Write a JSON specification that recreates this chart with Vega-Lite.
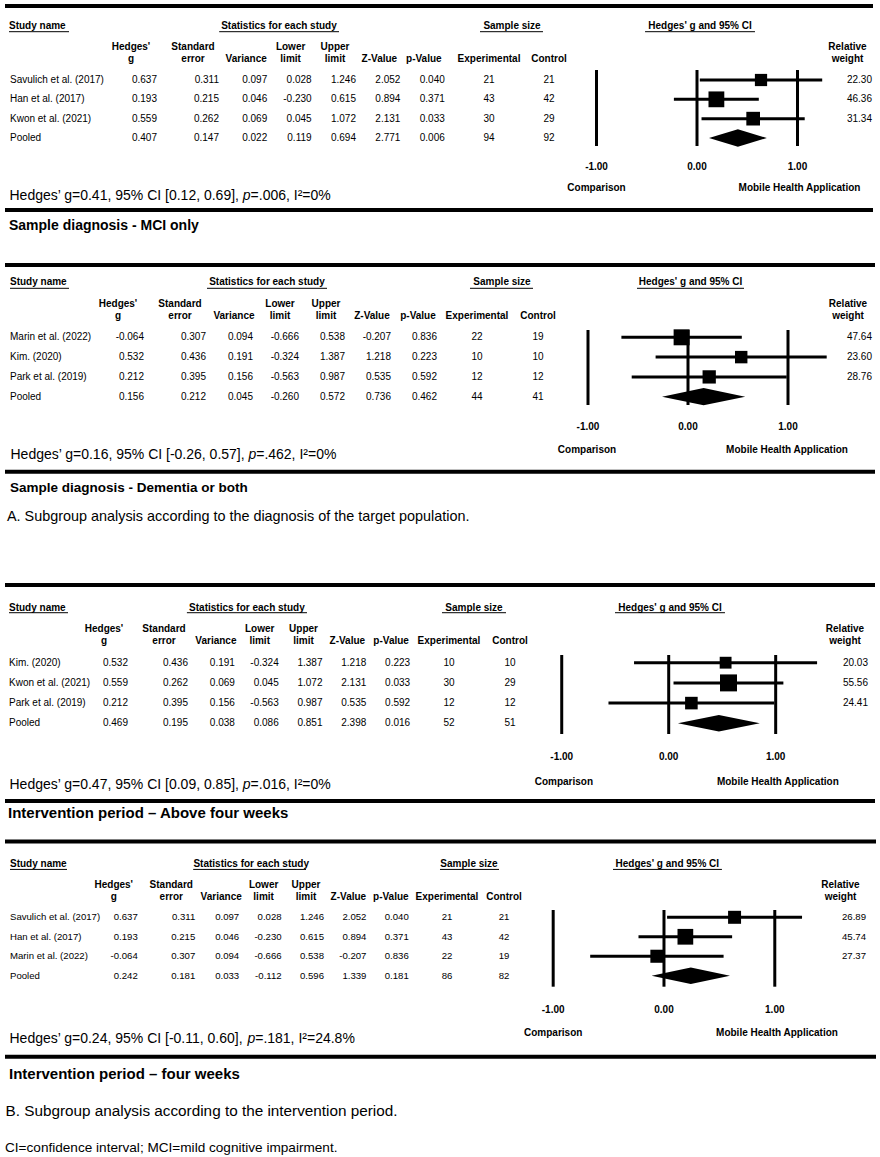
{
"$schema": "https://vega.github.io/schema/vega-lite/v6.json",
"padding": {"left": 3, "top": 0, "right": 0, "bottom": 0},
"background": "white",
"bounds": "full",
"spacing": 0,
"config": {
 "view": {"stroke": null},
 "axis": {"disable": true},
 "legend": {"disable": true},
 "concat": {"spacing": 0},
 "text": {"font": "Liberation Sans", "fontSize": 10, "color": "#000"},
 "rule": {"color": "#000"},
 "square": {"color": "#000", "opacity": 1},
 "point": {"color": "#000", "opacity": 1},
 "locale": {"number": {"decimal": ".", "thousands": ",", "grouping": [3], "currency": ["$", ""], "minus": "-"}}
},
"datasets": {
 "one": [{}],
 "refs": [{"ref": -1}, {"ref": 0}, {"ref": 1}],
 "cols": [
  {"col": "g", "h": "Hedges'\ng"},
  {"col": "se", "h": "Standard\nerror"},
  {"col": "var", "h": "\nVariance"},
  {"col": "lo", "h": "Lower\nlimit"},
  {"col": "hi", "h": "Upper\nlimit"},
  {"col": "z", "h": "\nZ-Value"},
  {"col": "p", "h": "\np-Value"},
  {"col": "ne", "h": "\nExperimental"},
  {"col": "nc", "h": "\nControl"}
 ],
 "studies": [
  {"panel":1,"row":1,"study":"Savulich et al. (2017)","g":0.637,"se":0.311,"var":0.097,"lo":0.028,"hi":1.246,"z":2.052,"p":0.040,"ne":21,"nc":21,"w":22.30},
  {"panel":1,"row":2,"study":"Han et al. (2017)","g":0.193,"se":0.215,"var":0.046,"lo":-0.230,"hi":0.615,"z":0.894,"p":0.371,"ne":43,"nc":42,"w":46.36},
  {"panel":1,"row":3,"study":"Kwon et al. (2021)","g":0.559,"se":0.262,"var":0.069,"lo":0.045,"hi":1.072,"z":2.131,"p":0.033,"ne":30,"nc":29,"w":31.34},
  {"panel":1,"row":4,"study":"Pooled","g":0.407,"se":0.147,"var":0.022,"lo":0.119,"hi":0.694,"z":2.771,"p":0.006,"ne":94,"nc":92,"w":null},
  {"panel":2,"row":1,"study":"Marin et al. (2022)","g":-0.064,"se":0.307,"var":0.094,"lo":-0.666,"hi":0.538,"z":-0.207,"p":0.836,"ne":22,"nc":19,"w":47.64},
  {"panel":2,"row":2,"study":"Kim. (2020)","g":0.532,"se":0.436,"var":0.191,"lo":-0.324,"hi":1.387,"z":1.218,"p":0.223,"ne":10,"nc":10,"w":23.60},
  {"panel":2,"row":3,"study":"Park et al. (2019)","g":0.212,"se":0.395,"var":0.156,"lo":-0.563,"hi":0.987,"z":0.535,"p":0.592,"ne":12,"nc":12,"w":28.76},
  {"panel":2,"row":4,"study":"Pooled","g":0.156,"se":0.212,"var":0.045,"lo":-0.260,"hi":0.572,"z":0.736,"p":0.462,"ne":44,"nc":41,"w":null},
  {"panel":3,"row":1,"study":"Kim. (2020)","g":0.532,"se":0.436,"var":0.191,"lo":-0.324,"hi":1.387,"z":1.218,"p":0.223,"ne":10,"nc":10,"w":20.03},
  {"panel":3,"row":2,"study":"Kwon et al. (2021)","g":0.559,"se":0.262,"var":0.069,"lo":0.045,"hi":1.072,"z":2.131,"p":0.033,"ne":30,"nc":29,"w":55.56},
  {"panel":3,"row":3,"study":"Park et al. (2019)","g":0.212,"se":0.395,"var":0.156,"lo":-0.563,"hi":0.987,"z":0.535,"p":0.592,"ne":12,"nc":12,"w":24.41},
  {"panel":3,"row":4,"study":"Pooled","g":0.469,"se":0.195,"var":0.038,"lo":0.086,"hi":0.851,"z":2.398,"p":0.016,"ne":52,"nc":51,"w":null},
  {"panel":4,"row":1,"study":"Savulich et al. (2017)","g":0.637,"se":0.311,"var":0.097,"lo":0.028,"hi":1.246,"z":2.052,"p":0.040,"ne":21,"nc":21,"w":26.89},
  {"panel":4,"row":2,"study":"Han et al. (2017)","g":0.193,"se":0.215,"var":0.046,"lo":-0.230,"hi":0.615,"z":0.894,"p":0.371,"ne":43,"nc":42,"w":45.74},
  {"panel":4,"row":3,"study":"Marin et al. (2022)","g":-0.064,"se":0.307,"var":0.094,"lo":-0.666,"hi":0.538,"z":-0.207,"p":0.836,"ne":22,"nc":19,"w":27.37},
  {"panel":4,"row":4,"study":"Pooled","g":0.242,"se":0.181,"var":0.033,"lo":-0.112,"hi":0.596,"z":1.339,"p":0.181,"ne":86,"nc":82,"w":null}
 ]
},
"vconcat": [
{"spacing": 0, "bounds": "flush", "hconcat": [
 {"width": 95, "height": 245, "layer": [
  {"data": {"name": "one"}, "mark": {"type": "rule", "strokeWidth": 4}, "encoding": {"y": {"datum": -2.828, "type": "quantitative", "scale": {"domain": [-3.139, 9.536], "reverse": true, "nice": false, "zero": false}}}},
  {"data": {"name": "one"}, "mark": {"type": "rule", "strokeWidth": 4}, "encoding": {"y": {"datum": 7.725, "type": "quantitative"}}},
  {"data": {"name": "one"}, "mark": {"type": "text", "align": "left", "baseline": "middle", "fontWeight": "bold", "dx": 4}, "encoding": {"x": {"datum": 0, "type": "quantitative", "scale": {"domain": [0, 1], "nice": false, "zero": false}}, "y": {"datum": -1.794, "type": "quantitative"}, "text": {"value": "Study name"}}},
  {"data": {"name": "one"}, "mark": {"type": "rule", "strokeWidth": 1, "xOffset": 4, "x2Offset": 64}, "encoding": {"x": {"datum": 0, "type": "quantitative"}, "x2": {"datum": 0}, "y": {"datum": -1.499, "type": "quantitative"}}},
  {"data": {"name": "studies"}, "transform": [{"filter": "datum.panel == 1"}], "mark": {"type": "text", "align": "left", "baseline": "middle", "dx": 5}, "encoding": {"x": {"datum": 0, "type": "quantitative"}, "y": {"field": "row", "type": "quantitative"}, "text": {"field": "study", "type": "nominal"}}},
  {"data": {"name": "one"}, "mark": {"type": "text", "align": "left", "baseline": "middle", "fontSize": 14, "dx": 4.5}, "encoding": {"x": {"datum": 0, "type": "quantitative"}, "y": {"datum": 7.0, "type": "quantitative"}, "text": {"value": "Hedges’ g=0.41, 95% CI [0.12, 0.69], "}}},
  {"data": {"name": "one"}, "mark": {"type": "text", "align": "left", "baseline": "middle", "fontSize": 14, "fontStyle": "italic", "dx": 237.8}, "encoding": {"x": {"datum": 0, "type": "quantitative"}, "y": {"datum": 7.0, "type": "quantitative"}, "text": {"value": "p"}}},
  {"data": {"name": "one"}, "mark": {"type": "text", "align": "left", "baseline": "middle", "fontSize": 14, "dx": 245.6}, "encoding": {"x": {"datum": 0, "type": "quantitative"}, "y": {"datum": 7.0, "type": "quantitative"}, "text": {"value": "=.006, I²=0%"}}},
  {"data": {"name": "one"}, "mark": {"type": "text", "align": "left", "baseline": "middle", "fontSize": 14, "fontWeight": "bold", "dx": 4}, "encoding": {"x": {"datum": 0, "type": "quantitative"}, "y": {"datum": 8.553, "type": "quantitative"}, "text": {"value": "Sample diagnosis - MCI only"}}}
 ]},
 {"width": 124, "height": 245, "layer": [
  {"data": {"name": "one"}, "mark": {"type": "rule", "strokeWidth": 4}, "encoding": {"y": {"datum": -2.828, "type": "quantitative", "scale": {"domain": [-3.139, 9.536], "reverse": true, "nice": false, "zero": false}}}},
  {"data": {"name": "one"}, "mark": {"type": "rule", "strokeWidth": 4}, "encoding": {"y": {"datum": 7.725, "type": "quantitative"}}},
  {"data": {"name": "cols"}, "transform": [{"filter": {"field": "col", "oneOf": ["g", "se"]}}], "mark": {"type": "text", "fontWeight": "bold", "baseline": "middle", "lineBreak": "\n", "lineHeight": 12}, "encoding": {"x": {"field": "col", "type": "nominal", "scale": {"type": "band", "domain": ["g", "se"], "paddingInner": 0, "paddingOuter": 0}}, "y": {"datum": -0.707, "type": "quantitative"}, "text": {"field": "h", "type": "nominal"}}},
  {"data": {"name": "studies"}, "transform": [{"filter": "datum.panel == 1"}, {"fold": ["g", "se"], "as": ["col", "val"]}], "mark": {"type": "text", "align": "right", "baseline": "middle", "dx": 26}, "encoding": {"x": {"field": "col", "type": "nominal"}, "y": {"field": "row", "type": "quantitative"}, "text": {"field": "val", "type": "quantitative", "format": ".3f"}}}
 ]},
 {"width": 222, "height": 245, "layer": [
  {"data": {"name": "one"}, "mark": {"type": "rule", "strokeWidth": 4}, "encoding": {"y": {"datum": -2.828, "type": "quantitative", "scale": {"domain": [-3.139, 9.536], "reverse": true, "nice": false, "zero": false}}}},
  {"data": {"name": "one"}, "mark": {"type": "rule", "strokeWidth": 4}, "encoding": {"y": {"datum": 7.725, "type": "quantitative"}}},
  {"data": {"name": "one"}, "mark": {"type": "text", "fontWeight": "bold", "baseline": "middle", "dx": 32.8}, "encoding": {"x": {"datum": "var", "type": "nominal", "scale": {"type": "band", "domain": ["var", "lo", "hi", "z", "p"], "paddingInner": 0, "paddingOuter": 0}}, "y": {"datum": -1.794, "type": "quantitative"}, "text": {"value": "Statistics for each study"}}},
  {"data": {"name": "one"}, "mark": {"type": "rule", "strokeWidth": 1, "xOffset": -27, "x2Offset": 4}, "encoding": {"x": {"datum": "var", "type": "nominal"}, "x2": {"datum": "hi"}, "y": {"datum": -1.499, "type": "quantitative"}}},
  {"data": {"name": "cols"}, "transform": [{"filter": {"field": "col", "oneOf": ["var", "lo", "hi", "z", "p"]}}], "mark": {"type": "text", "fontWeight": "bold", "baseline": "middle", "lineBreak": "\n", "lineHeight": 12}, "encoding": {"x": {"field": "col", "type": "nominal"}, "y": {"datum": -0.707, "type": "quantitative"}, "text": {"field": "h", "type": "nominal"}}},
  {"data": {"name": "studies"}, "transform": [{"filter": "datum.panel == 1"}, {"fold": ["var", "lo", "hi", "z", "p"], "as": ["col", "val"]}], "mark": {"type": "text", "align": "right", "baseline": "middle", "dx": 21}, "encoding": {"x": {"field": "col", "type": "nominal"}, "y": {"field": "row", "type": "quantitative"}, "text": {"field": "val", "type": "quantitative", "format": ".3f"}}}
 ]},
 {"width": 146, "height": 245, "layer": [
  {"data": {"name": "one"}, "mark": {"type": "rule", "strokeWidth": 4}, "encoding": {"y": {"datum": -2.828, "type": "quantitative", "scale": {"domain": [-3.139, 9.536], "reverse": true, "nice": false, "zero": false}}}},
  {"data": {"name": "one"}, "mark": {"type": "rule", "strokeWidth": 4}, "encoding": {"y": {"datum": 7.725, "type": "quantitative"}}},
  {"data": {"name": "one"}, "mark": {"type": "text", "fontWeight": "bold", "baseline": "middle", "dx": 23}, "encoding": {"x": {"datum": "ne", "type": "nominal", "scale": {"type": "point", "domain": ["ne", "nc"], "padding": 0.717}}, "y": {"datum": -1.794, "type": "quantitative"}, "text": {"value": "Sample size"}}},
  {"data": {"name": "one"}, "mark": {"type": "rule", "strokeWidth": 1, "xOffset": -9, "x2Offset": -6}, "encoding": {"x": {"datum": "ne", "type": "nominal"}, "x2": {"datum": "nc"}, "y": {"datum": -1.499, "type": "quantitative"}}},
  {"data": {"name": "cols"}, "transform": [{"filter": {"field": "col", "oneOf": ["ne", "nc"]}}], "mark": {"type": "text", "fontWeight": "bold", "baseline": "middle", "lineBreak": "\n", "lineHeight": 12}, "encoding": {"x": {"field": "col", "type": "nominal"}, "y": {"datum": -0.707, "type": "quantitative"}, "text": {"field": "h", "type": "nominal"}}},
  {"data": {"name": "studies"}, "transform": [{"filter": "datum.panel == 1"}, {"fold": ["ne", "nc"], "as": ["col", "val"]}], "mark": {"type": "text", "baseline": "middle"}, "encoding": {"x": {"field": "col", "type": "nominal"}, "y": {"field": "row", "type": "quantitative"}, "text": {"field": "val", "type": "quantitative", "format": "d"}}}
 ]},
 {"width": 230, "height": 245, "layer": [
  {"data": {"name": "one"}, "mark": {"type": "rule", "strokeWidth": 4}, "encoding": {"y": {"datum": -2.828, "type": "quantitative", "scale": {"domain": [-3.139, 9.536], "reverse": true, "nice": false, "zero": false}}}},
  {"data": {"name": "one"}, "mark": {"type": "rule", "strokeWidth": 4}, "encoding": {"y": {"datum": 7.725, "type": "quantitative"}}},
  {"data": {"name": "refs"}, "mark": {"type": "rule", "strokeWidth": 3}, "encoding": {"x": {"field": "ref", "type": "quantitative", "scale": {"domain": [-1.045, 1.244], "nice": false, "zero": false}}, "y": {"datum": 0.483, "type": "quantitative"}, "y2": {"datum": 4.414}}},
  {"data": {"name": "studies"}, "transform": [{"filter": "datum.panel == 1 && datum.row < 4"}], "mark": {"type": "rule", "strokeWidth": 3}, "encoding": {"x": {"field": "lo", "type": "quantitative"}, "x2": {"field": "hi"}, "y": {"field": "row", "type": "quantitative"}}},
  {"data": {"name": "studies"}, "transform": [{"filter": "datum.panel == 1 && datum.row < 4"}], "mark": {"type": "square", "opacity": 1}, "encoding": {"x": {"field": "g", "type": "quantitative"}, "y": {"field": "row", "type": "quantitative"}, "size": {"field": "w", "type": "quantitative", "scale": {"domain": [20, 56], "range": [140, 290]}, "legend": null}}},
  {"data": {"name": "studies"}, "transform": [{"filter": "datum.panel == 1 && datum.row == 4"}], "mark": {"type": "point", "shape": "M-1,0L0,-0.306L1,0L0,0.306Z", "size": 3341, "filled": true, "opacity": 1}, "encoding": {"x": {"field": "g", "type": "quantitative"}, "y": {"field": "row", "type": "quantitative"}}},
  {"data": {"name": "one"}, "mark": {"type": "text", "fontWeight": "bold", "baseline": "middle"}, "encoding": {"x": {"datum": 0.03, "type": "quantitative"}, "y": {"datum": -1.794, "type": "quantitative"}, "text": {"value": "Hedges' g and 95% CI"}}},
  {"data": {"name": "one"}, "mark": {"type": "rule", "strokeWidth": 1}, "encoding": {"x": {"datum": -0.517, "type": "quantitative"}, "x2": {"datum": 0.577}, "y": {"datum": -1.499, "type": "quantitative"}}},
  {"data": {"name": "refs"}, "mark": {"type": "text", "fontWeight": "bold", "baseline": "middle"}, "encoding": {"x": {"field": "ref", "type": "quantitative"}, "y": {"datum": 5.5, "type": "quantitative"}, "text": {"field": "ref", "type": "quantitative", "format": ".2f"}}},
  {"data": {"name": "one"}, "mark": {"type": "text", "fontWeight": "bold", "baseline": "middle"}, "encoding": {"x": {"datum": -1, "type": "quantitative"}, "y": {"datum": 6.587, "type": "quantitative"}, "text": {"value": "Comparison"}}},
  {"data": {"name": "one"}, "mark": {"type": "text", "fontWeight": "bold", "baseline": "middle"}, "encoding": {"x": {"datum": 1.02, "type": "quantitative"}, "y": {"datum": 6.587, "type": "quantitative"}, "text": {"value": "Mobile Health Application"}}}
 ]},
 {"width": 51, "height": 245, "layer": [
  {"data": {"name": "one"}, "mark": {"type": "rule", "strokeWidth": 4}, "encoding": {"y": {"datum": -2.828, "type": "quantitative", "scale": {"domain": [-3.139, 9.536], "reverse": true, "nice": false, "zero": false}}}},
  {"data": {"name": "one"}, "mark": {"type": "rule", "strokeWidth": 4}, "encoding": {"y": {"datum": 7.725, "type": "quantitative"}}},
  {"data": {"name": "one"}, "mark": {"type": "text", "fontWeight": "bold", "baseline": "middle", "lineBreak": "\n", "lineHeight": 12}, "encoding": {"x": {"datum": 0.5, "type": "quantitative", "scale": {"domain": [0, 1], "nice": false, "zero": false}}, "y": {"datum": -0.707, "type": "quantitative"}, "text": {"value": "Relative\nweight"}}},
  {"data": {"name": "studies"}, "transform": [{"filter": "datum.panel == 1 && datum.w != null"}], "mark": {"type": "text", "align": "right", "baseline": "middle", "dx": -1}, "encoding": {"x": {"datum": 1, "type": "quantitative"}, "y": {"field": "row", "type": "quantitative"}, "text": {"field": "w", "type": "quantitative", "format": ".2f"}}}
 ]}
]},
{"spacing": 0, "bounds": "flush", "hconcat": [
 {"width": 82, "height": 325, "layer": [
  {"data": {"name": "one"}, "mark": {"type": "rule", "strokeWidth": 4}, "encoding": {"y": {"datum": -2.652, "type": "quantitative", "scale": {"domain": [-3.662, 12.752], "reverse": true, "nice": false, "zero": false}}}},
  {"data": {"name": "one"}, "mark": {"type": "rule", "strokeWidth": 4}, "encoding": {"y": {"datum": 7.788, "type": "quantitative"}}},
  {"data": {"name": "one"}, "mark": {"type": "text", "align": "left", "baseline": "middle", "fontWeight": "bold", "dx": 5}, "encoding": {"x": {"datum": 0, "type": "quantitative", "scale": {"domain": [0, 1], "nice": false, "zero": false}}, "y": {"datum": -1.793, "type": "quantitative"}, "text": {"value": "Study name"}}},
  {"data": {"name": "one"}, "mark": {"type": "rule", "strokeWidth": 1, "xOffset": 5, "x2Offset": 64}, "encoding": {"x": {"datum": 0, "type": "quantitative"}, "x2": {"datum": 0}, "y": {"datum": -1.475, "type": "quantitative"}}},
  {"data": {"name": "studies"}, "transform": [{"filter": "datum.panel == 2"}], "mark": {"type": "text", "align": "left", "baseline": "middle", "dx": 5}, "encoding": {"x": {"datum": 0, "type": "quantitative"}, "y": {"field": "row", "type": "quantitative"}, "text": {"field": "study", "type": "nominal"}}},
  {"data": {"name": "one"}, "mark": {"type": "text", "align": "left", "baseline": "middle", "fontSize": 14, "dx": 5.5}, "encoding": {"x": {"datum": 0, "type": "quantitative"}, "y": {"datum": 6.944, "type": "quantitative"}, "text": {"value": "Hedges’ g=0.16, 95% CI [-0.26, 0.57], "}}},
  {"data": {"name": "one"}, "mark": {"type": "text", "align": "left", "baseline": "middle", "fontSize": 14, "fontStyle": "italic", "dx": 243.4}, "encoding": {"x": {"datum": 0, "type": "quantitative"}, "y": {"datum": 6.944, "type": "quantitative"}, "text": {"value": "p"}}},
  {"data": {"name": "one"}, "mark": {"type": "text", "align": "left", "baseline": "middle", "fontSize": 14, "dx": 251.2}, "encoding": {"x": {"datum": 0, "type": "quantitative"}, "y": {"datum": 6.944, "type": "quantitative"}, "text": {"value": "=.462, I²=0%"}}},
  {"data": {"name": "one"}, "mark": {"type": "text", "align": "left", "baseline": "middle", "fontSize": 13.5, "fontWeight": "bold", "dx": 5}, "encoding": {"x": {"datum": 0, "type": "quantitative"}, "y": {"datum": 8.626, "type": "quantitative"}, "text": {"value": "Sample diagnosis - Dementia or both"}}},
  {"data": {"name": "one"}, "mark": {"type": "text", "align": "left", "baseline": "middle", "fontSize": 14.4, "dx": 2}, "encoding": {"x": {"datum": 0, "type": "quantitative"}, "y": {"datum": 10.061, "type": "quantitative"}, "text": {"value": "A. Subgroup analysis according to the diagnosis of the target population."}}}
 ]},
 {"width": 124, "height": 325, "layer": [
  {"data": {"name": "one"}, "mark": {"type": "rule", "strokeWidth": 4}, "encoding": {"y": {"datum": -2.652, "type": "quantitative", "scale": {"domain": [-3.662, 12.752], "reverse": true, "nice": false, "zero": false}}}},
  {"data": {"name": "one"}, "mark": {"type": "rule", "strokeWidth": 4}, "encoding": {"y": {"datum": 7.788, "type": "quantitative"}}},
  {"data": {"name": "cols"}, "transform": [{"filter": {"field": "col", "oneOf": ["g", "se"]}}], "mark": {"type": "text", "fontWeight": "bold", "baseline": "middle", "lineBreak": "\n", "lineHeight": 12}, "encoding": {"x": {"field": "col", "type": "nominal", "scale": {"type": "band", "domain": ["g", "se"], "paddingInner": 0, "paddingOuter": 0}}, "y": {"datum": -0.682, "type": "quantitative"}, "text": {"field": "h", "type": "nominal"}}},
  {"data": {"name": "studies"}, "transform": [{"filter": "datum.panel == 2"}, {"fold": ["g", "se"], "as": ["col", "val"]}], "mark": {"type": "text", "align": "right", "baseline": "middle", "dx": 26}, "encoding": {"x": {"field": "col", "type": "nominal"}, "y": {"field": "row", "type": "quantitative"}, "text": {"field": "val", "type": "quantitative", "format": ".3f"}}}
 ]},
 {"width": 230, "height": 325, "layer": [
  {"data": {"name": "one"}, "mark": {"type": "rule", "strokeWidth": 4}, "encoding": {"y": {"datum": -2.652, "type": "quantitative", "scale": {"domain": [-3.662, 12.752], "reverse": true, "nice": false, "zero": false}}}},
  {"data": {"name": "one"}, "mark": {"type": "rule", "strokeWidth": 4}, "encoding": {"y": {"datum": 7.788, "type": "quantitative"}}},
  {"data": {"name": "one"}, "mark": {"type": "text", "fontWeight": "bold", "baseline": "middle", "dx": 33}, "encoding": {"x": {"datum": "var", "type": "nominal", "scale": {"type": "band", "domain": ["var", "lo", "hi", "z", "p"], "paddingInner": 0, "paddingOuter": 0}}, "y": {"datum": -1.793, "type": "quantitative"}, "text": {"value": "Statistics for each study"}}},
  {"data": {"name": "one"}, "mark": {"type": "rule", "strokeWidth": 1, "xOffset": -27, "x2Offset": 1}, "encoding": {"x": {"datum": "var", "type": "nominal"}, "x2": {"datum": "hi"}, "y": {"datum": -1.475, "type": "quantitative"}}},
  {"data": {"name": "cols"}, "transform": [{"filter": {"field": "col", "oneOf": ["var", "lo", "hi", "z", "p"]}}], "mark": {"type": "text", "fontWeight": "bold", "baseline": "middle", "lineBreak": "\n", "lineHeight": 12}, "encoding": {"x": {"field": "col", "type": "nominal"}, "y": {"datum": -0.682, "type": "quantitative"}, "text": {"field": "h", "type": "nominal"}}},
  {"data": {"name": "studies"}, "transform": [{"filter": "datum.panel == 2"}, {"fold": ["var", "lo", "hi", "z", "p"], "as": ["col", "val"]}], "mark": {"type": "text", "align": "right", "baseline": "middle", "dx": 19}, "encoding": {"x": {"field": "col", "type": "nominal"}, "y": {"field": "row", "type": "quantitative"}, "text": {"field": "val", "type": "quantitative", "format": ".3f"}}}
 ]},
 {"width": 133, "height": 325, "layer": [
  {"data": {"name": "one"}, "mark": {"type": "rule", "strokeWidth": 4}, "encoding": {"y": {"datum": -2.652, "type": "quantitative", "scale": {"domain": [-3.662, 12.752], "reverse": true, "nice": false, "zero": false}}}},
  {"data": {"name": "one"}, "mark": {"type": "rule", "strokeWidth": 4}, "encoding": {"y": {"datum": 7.788, "type": "quantitative"}}},
  {"data": {"name": "one"}, "mark": {"type": "text", "fontWeight": "bold", "baseline": "middle", "dx": 25}, "encoding": {"x": {"datum": "ne", "type": "nominal", "scale": {"type": "point", "domain": ["ne", "nc"], "padding": 0.59}}, "y": {"datum": -1.793, "type": "quantitative"}, "text": {"value": "Sample size"}}},
  {"data": {"name": "one"}, "mark": {"type": "rule", "strokeWidth": 1, "xOffset": -7, "x2Offset": -5}, "encoding": {"x": {"datum": "ne", "type": "nominal"}, "x2": {"datum": "nc"}, "y": {"datum": -1.475, "type": "quantitative"}}},
  {"data": {"name": "cols"}, "transform": [{"filter": {"field": "col", "oneOf": ["ne", "nc"]}}], "mark": {"type": "text", "fontWeight": "bold", "baseline": "middle", "lineBreak": "\n", "lineHeight": 12}, "encoding": {"x": {"field": "col", "type": "nominal"}, "y": {"datum": -0.682, "type": "quantitative"}, "text": {"field": "h", "type": "nominal"}}},
  {"data": {"name": "studies"}, "transform": [{"filter": "datum.panel == 2"}, {"fold": ["ne", "nc"], "as": ["col", "val"]}], "mark": {"type": "text", "baseline": "middle"}, "encoding": {"x": {"field": "col", "type": "nominal"}, "y": {"field": "row", "type": "quantitative"}, "text": {"field": "val", "type": "quantitative", "format": "d"}}}
 ]},
 {"width": 250, "height": 325, "layer": [
  {"data": {"name": "one"}, "mark": {"type": "rule", "strokeWidth": 4}, "encoding": {"y": {"datum": -2.652, "type": "quantitative", "scale": {"domain": [-3.662, 12.752], "reverse": true, "nice": false, "zero": false}}}},
  {"data": {"name": "one"}, "mark": {"type": "rule", "strokeWidth": 4}, "encoding": {"y": {"datum": 7.788, "type": "quantitative"}}},
  {"data": {"name": "refs"}, "mark": {"type": "rule", "strokeWidth": 3}, "encoding": {"x": {"field": "ref", "type": "quantitative", "scale": {"domain": [-1.14, 1.36], "nice": false, "zero": false}}, "y": {"datum": 0.631, "type": "quantitative"}, "y2": {"datum": 4.419}}},
  {"data": {"name": "studies"}, "transform": [{"filter": "datum.panel == 2 && datum.row < 4"}], "mark": {"type": "rule", "strokeWidth": 3}, "encoding": {"x": {"field": "lo", "type": "quantitative"}, "x2": {"field": "hi"}, "y": {"field": "row", "type": "quantitative"}}},
  {"data": {"name": "studies"}, "transform": [{"filter": "datum.panel == 2 && datum.row < 4"}], "mark": {"type": "square", "opacity": 1}, "encoding": {"x": {"field": "g", "type": "quantitative"}, "y": {"field": "row", "type": "quantitative"}, "size": {"field": "w", "type": "quantitative", "scale": {"domain": [20, 56], "range": [140, 290]}, "legend": null}}},
  {"data": {"name": "studies"}, "transform": [{"filter": "datum.panel == 2 && datum.row == 4"}], "mark": {"type": "point", "shape": "M-1,0L0,-0.208L1,0L0,0.208Z", "size": 6922, "filled": true, "opacity": 1}, "encoding": {"x": {"field": "g", "type": "quantitative"}, "y": {"field": "row", "type": "quantitative"}}},
  {"data": {"name": "one"}, "mark": {"type": "text", "fontWeight": "bold", "baseline": "middle"}, "encoding": {"x": {"datum": 0.025, "type": "quantitative"}, "y": {"datum": -1.793, "type": "quantitative"}, "text": {"value": "Hedges' g and 95% CI"}}},
  {"data": {"name": "one"}, "mark": {"type": "rule", "strokeWidth": 1}, "encoding": {"x": {"datum": -0.51, "type": "quantitative"}, "x2": {"datum": 0.56}, "y": {"datum": -1.475, "type": "quantitative"}}},
  {"data": {"name": "refs"}, "mark": {"type": "text", "fontWeight": "bold", "baseline": "middle"}, "encoding": {"x": {"field": "ref", "type": "quantitative"}, "y": {"datum": 5.515, "type": "quantitative"}, "text": {"field": "ref", "type": "quantitative", "format": ".2f"}}},
  {"data": {"name": "one"}, "mark": {"type": "text", "fontWeight": "bold", "baseline": "middle"}, "encoding": {"x": {"datum": -1.01, "type": "quantitative"}, "y": {"datum": 6.692, "type": "quantitative"}, "text": {"value": "Comparison"}}},
  {"data": {"name": "one"}, "mark": {"type": "text", "fontWeight": "bold", "baseline": "middle"}, "encoding": {"x": {"datum": 0.99, "type": "quantitative"}, "y": {"datum": 6.692, "type": "quantitative"}, "text": {"value": "Mobile Health Application"}}}
 ]},
 {"width": 51, "height": 325, "layer": [
  {"data": {"name": "one"}, "mark": {"type": "rule", "strokeWidth": 4}, "encoding": {"y": {"datum": -2.652, "type": "quantitative", "scale": {"domain": [-3.662, 12.752], "reverse": true, "nice": false, "zero": false}}}},
  {"data": {"name": "one"}, "mark": {"type": "rule", "strokeWidth": 4}, "encoding": {"y": {"datum": 7.788, "type": "quantitative"}}},
  {"data": {"name": "one"}, "mark": {"type": "text", "fontWeight": "bold", "baseline": "middle", "lineBreak": "\n", "lineHeight": 12, "dx": -1.5}, "encoding": {"x": {"datum": 0.5, "type": "quantitative", "scale": {"domain": [0, 1], "nice": false, "zero": false}}, "y": {"datum": -0.682, "type": "quantitative"}, "text": {"value": "Relative\nweight"}}},
  {"data": {"name": "studies"}, "transform": [{"filter": "datum.panel == 2 && datum.w != null"}], "mark": {"type": "text", "align": "right", "baseline": "middle", "dx": -3}, "encoding": {"x": {"datum": 1, "type": "quantitative"}, "y": {"field": "row", "type": "quantitative"}, "text": {"field": "w", "type": "quantitative", "format": ".2f"}}}
 ]}
]},
{"spacing": 0, "bounds": "flush", "hconcat": [
 {"width": 69, "height": 260, "layer": [
  {"data": {"name": "one"}, "mark": {"type": "rule", "strokeWidth": 4}, "encoding": {"y": {"datum": -2.847, "type": "quantitative", "scale": {"domain": [-3.589, 9.282], "reverse": true, "nice": false, "zero": false}}}},
  {"data": {"name": "one"}, "mark": {"type": "rule", "strokeWidth": 4}, "encoding": {"y": {"datum": 7.847, "type": "quantitative"}}},
  {"data": {"name": "one"}, "mark": {"type": "text", "align": "left", "baseline": "middle", "fontWeight": "bold", "dx": 4}, "encoding": {"x": {"datum": 0, "type": "quantitative", "scale": {"domain": [0, 1], "nice": false, "zero": false}}, "y": {"datum": -1.723, "type": "quantitative"}, "text": {"value": "Study name"}}},
  {"data": {"name": "one"}, "mark": {"type": "rule", "strokeWidth": 1, "xOffset": 4, "x2Offset": 63}, "encoding": {"x": {"datum": 0, "type": "quantitative"}, "x2": {"datum": 0}, "y": {"datum": -1.475, "type": "quantitative"}}},
  {"data": {"name": "studies"}, "transform": [{"filter": "datum.panel == 3"}], "mark": {"type": "text", "align": "left", "baseline": "middle", "dx": 4}, "encoding": {"x": {"datum": 0, "type": "quantitative"}, "y": {"field": "row", "type": "quantitative"}, "text": {"field": "study", "type": "nominal"}}},
  {"data": {"name": "one"}, "mark": {"type": "text", "align": "left", "baseline": "middle", "fontSize": 14, "dx": 4.5}, "encoding": {"x": {"datum": 0, "type": "quantitative"}, "y": {"datum": 7.054, "type": "quantitative"}, "text": {"value": "Hedges’ g=0.47, 95% CI [0.09, 0.85], "}}},
  {"data": {"name": "one"}, "mark": {"type": "text", "align": "left", "baseline": "middle", "fontSize": 14, "fontStyle": "italic", "dx": 237.8}, "encoding": {"x": {"datum": 0, "type": "quantitative"}, "y": {"datum": 7.054, "type": "quantitative"}, "text": {"value": "p"}}},
  {"data": {"name": "one"}, "mark": {"type": "text", "align": "left", "baseline": "middle", "fontSize": 14, "dx": 245.6}, "encoding": {"x": {"datum": 0, "type": "quantitative"}, "y": {"datum": 7.054, "type": "quantitative"}, "text": {"value": "=.016, I²=0%"}}},
  {"data": {"name": "one"}, "mark": {"type": "text", "align": "left", "baseline": "middle", "fontSize": 15, "fontWeight": "bold", "dx": 3}, "encoding": {"x": {"datum": 0, "type": "quantitative"}, "y": {"datum": 8.455, "type": "quantitative"}, "text": {"value": "Intervention period – Above four weeks"}}}
 ]},
 {"width": 120, "height": 260, "layer": [
  {"data": {"name": "one"}, "mark": {"type": "rule", "strokeWidth": 4}, "encoding": {"y": {"datum": -2.847, "type": "quantitative", "scale": {"domain": [-3.589, 9.282], "reverse": true, "nice": false, "zero": false}}}},
  {"data": {"name": "one"}, "mark": {"type": "rule", "strokeWidth": 4}, "encoding": {"y": {"datum": 7.847, "type": "quantitative"}}},
  {"data": {"name": "cols"}, "transform": [{"filter": {"field": "col", "oneOf": ["g", "se"]}}], "mark": {"type": "text", "fontWeight": "bold", "baseline": "middle", "lineBreak": "\n", "lineHeight": 12}, "encoding": {"x": {"field": "col", "type": "nominal", "scale": {"type": "band", "domain": ["g", "se"], "paddingInner": 0, "paddingOuter": 0}}, "y": {"datum": -0.668, "type": "quantitative"}, "text": {"field": "h", "type": "nominal"}}},
  {"data": {"name": "studies"}, "transform": [{"filter": "datum.panel == 3"}, {"fold": ["g", "se"], "as": ["col", "val"]}], "mark": {"type": "text", "align": "right", "baseline": "middle", "dx": 24}, "encoding": {"x": {"field": "col", "type": "nominal"}, "y": {"field": "row", "type": "quantitative"}, "text": {"field": "val", "type": "quantitative", "format": ".3f"}}}
 ]},
 {"width": 219, "height": 260, "layer": [
  {"data": {"name": "one"}, "mark": {"type": "rule", "strokeWidth": 4}, "encoding": {"y": {"datum": -2.847, "type": "quantitative", "scale": {"domain": [-3.589, 9.282], "reverse": true, "nice": false, "zero": false}}}},
  {"data": {"name": "one"}, "mark": {"type": "rule", "strokeWidth": 4}, "encoding": {"y": {"datum": 7.847, "type": "quantitative"}}},
  {"data": {"name": "one"}, "mark": {"type": "text", "fontWeight": "bold", "baseline": "middle", "dx": 31}, "encoding": {"x": {"datum": "var", "type": "nominal", "scale": {"type": "band", "domain": ["var", "lo", "hi", "z", "p"], "paddingInner": 0, "paddingOuter": 0}}, "y": {"datum": -1.723, "type": "quantitative"}, "text": {"value": "Statistics for each study"}}},
  {"data": {"name": "one"}, "mark": {"type": "rule", "strokeWidth": 1, "xOffset": -29, "x2Offset": 3.5}, "encoding": {"x": {"datum": "var", "type": "nominal"}, "x2": {"datum": "hi"}, "y": {"datum": -1.475, "type": "quantitative"}}},
  {"data": {"name": "cols"}, "transform": [{"filter": {"field": "col", "oneOf": ["var", "lo", "hi", "z", "p"]}}], "mark": {"type": "text", "fontWeight": "bold", "baseline": "middle", "lineBreak": "\n", "lineHeight": 12}, "encoding": {"x": {"field": "col", "type": "nominal"}, "y": {"datum": -0.668, "type": "quantitative"}, "text": {"field": "h", "type": "nominal"}}},
  {"data": {"name": "studies"}, "transform": [{"filter": "datum.panel == 3"}, {"fold": ["var", "lo", "hi", "z", "p"], "as": ["col", "val"]}], "mark": {"type": "text", "align": "right", "baseline": "middle", "dx": 19}, "encoding": {"x": {"field": "col", "type": "nominal"}, "y": {"field": "row", "type": "quantitative"}, "text": {"field": "val", "type": "quantitative", "format": ".3f"}}}
 ]},
 {"width": 133, "height": 260, "layer": [
  {"data": {"name": "one"}, "mark": {"type": "rule", "strokeWidth": 4}, "encoding": {"y": {"datum": -2.847, "type": "quantitative", "scale": {"domain": [-3.589, 9.282], "reverse": true, "nice": false, "zero": false}}}},
  {"data": {"name": "one"}, "mark": {"type": "rule", "strokeWidth": 4}, "encoding": {"y": {"datum": 7.847, "type": "quantitative"}}},
  {"data": {"name": "one"}, "mark": {"type": "text", "fontWeight": "bold", "baseline": "middle", "dx": 25}, "encoding": {"x": {"datum": "ne", "type": "nominal", "scale": {"type": "point", "domain": ["ne", "nc"], "padding": 0.59}}, "y": {"datum": -1.723, "type": "quantitative"}, "text": {"value": "Sample size"}}},
  {"data": {"name": "one"}, "mark": {"type": "rule", "strokeWidth": 1, "xOffset": -7, "x2Offset": -4}, "encoding": {"x": {"datum": "ne", "type": "nominal"}, "x2": {"datum": "nc"}, "y": {"datum": -1.475, "type": "quantitative"}}},
  {"data": {"name": "cols"}, "transform": [{"filter": {"field": "col", "oneOf": ["ne", "nc"]}}], "mark": {"type": "text", "fontWeight": "bold", "baseline": "middle", "lineBreak": "\n", "lineHeight": 12}, "encoding": {"x": {"field": "col", "type": "nominal"}, "y": {"datum": -0.668, "type": "quantitative"}, "text": {"field": "h", "type": "nominal"}}},
  {"data": {"name": "studies"}, "transform": [{"filter": "datum.panel == 3"}, {"fold": ["ne", "nc"], "as": ["col", "val"]}], "mark": {"type": "text", "baseline": "middle"}, "encoding": {"x": {"field": "col", "type": "nominal"}, "y": {"field": "row", "type": "quantitative"}, "text": {"field": "val", "type": "quantitative", "format": "d"}}}
 ]},
 {"width": 276, "height": 260, "layer": [
  {"data": {"name": "one"}, "mark": {"type": "rule", "strokeWidth": 4}, "encoding": {"y": {"datum": -2.847, "type": "quantitative", "scale": {"domain": [-3.589, 9.282], "reverse": true, "nice": false, "zero": false}}}},
  {"data": {"name": "one"}, "mark": {"type": "rule", "strokeWidth": 4}, "encoding": {"y": {"datum": 7.847, "type": "quantitative"}}},
  {"data": {"name": "refs"}, "mark": {"type": "rule", "strokeWidth": 3}, "encoding": {"x": {"field": "ref", "type": "quantitative", "scale": {"domain": [-1.147, 1.433], "nice": false, "zero": false}}, "y": {"datum": 0.619, "type": "quantitative"}, "y2": {"datum": 4.53}}},
  {"data": {"name": "studies"}, "transform": [{"filter": "datum.panel == 3 && datum.row < 4"}], "mark": {"type": "rule", "strokeWidth": 3}, "encoding": {"x": {"field": "lo", "type": "quantitative"}, "x2": {"field": "hi"}, "y": {"field": "row", "type": "quantitative"}}},
  {"data": {"name": "studies"}, "transform": [{"filter": "datum.panel == 3 && datum.row < 4"}], "mark": {"type": "square", "opacity": 1}, "encoding": {"x": {"field": "g", "type": "quantitative"}, "y": {"field": "row", "type": "quantitative"}, "size": {"field": "w", "type": "quantitative", "scale": {"domain": [20, 56], "range": [140, 290]}, "legend": null}}},
  {"data": {"name": "studies"}, "transform": [{"filter": "datum.panel == 3 && datum.row == 4"}], "mark": {"type": "point", "shape": "M-1,0L0,-0.203L1,0L0,0.203Z", "size": 6708, "filled": true, "opacity": 1}, "encoding": {"x": {"field": "g", "type": "quantitative"}, "y": {"field": "row", "type": "quantitative"}}},
  {"data": {"name": "one"}, "mark": {"type": "text", "fontWeight": "bold", "baseline": "middle"}, "encoding": {"x": {"datum": 0.012, "type": "quantitative"}, "y": {"datum": -1.723, "type": "quantitative"}, "text": {"value": "Hedges' g and 95% CI"}}},
  {"data": {"name": "one"}, "mark": {"type": "rule", "strokeWidth": 1}, "encoding": {"x": {"datum": -0.502, "type": "quantitative"}, "x2": {"datum": 0.526}, "y": {"datum": -1.475, "type": "quantitative"}}},
  {"data": {"name": "refs"}, "mark": {"type": "text", "fontWeight": "bold", "baseline": "middle"}, "encoding": {"x": {"field": "ref", "type": "quantitative"}, "y": {"datum": 5.653, "type": "quantitative"}, "text": {"field": "ref", "type": "quantitative", "format": ".2f"}}},
  {"data": {"name": "one"}, "mark": {"type": "text", "fontWeight": "bold", "baseline": "middle"}, "encoding": {"x": {"datum": -0.98, "type": "quantitative"}, "y": {"datum": 6.891, "type": "quantitative"}, "text": {"value": "Comparison"}}},
  {"data": {"name": "one"}, "mark": {"type": "text", "fontWeight": "bold", "baseline": "middle"}, "encoding": {"x": {"datum": 1.02, "type": "quantitative"}, "y": {"datum": 6.891, "type": "quantitative"}, "text": {"value": "Mobile Health Application"}}}
 ]},
 {"width": 53, "height": 260, "layer": [
  {"data": {"name": "one"}, "mark": {"type": "rule", "strokeWidth": 4}, "encoding": {"y": {"datum": -2.847, "type": "quantitative", "scale": {"domain": [-3.589, 9.282], "reverse": true, "nice": false, "zero": false}}}},
  {"data": {"name": "one"}, "mark": {"type": "rule", "strokeWidth": 4}, "encoding": {"y": {"datum": 7.847, "type": "quantitative"}}},
  {"data": {"name": "one"}, "mark": {"type": "text", "fontWeight": "bold", "baseline": "middle", "lineBreak": "\n", "lineHeight": 12, "dx": -3.5}, "encoding": {"x": {"datum": 0.5, "type": "quantitative", "scale": {"domain": [0, 1], "nice": false, "zero": false}}, "y": {"datum": -0.668, "type": "quantitative"}, "text": {"value": "Relative\nweight"}}},
  {"data": {"name": "studies"}, "transform": [{"filter": "datum.panel == 3 && datum.w != null"}], "mark": {"type": "text", "align": "right", "baseline": "middle", "dx": -7}, "encoding": {"x": {"datum": 1, "type": "quantitative"}, "y": {"field": "row", "type": "quantitative"}, "text": {"field": "w", "type": "quantitative", "format": ".2f"}}}
 ]}
]},
{"spacing": 0, "bounds": "flush", "hconcat": [
 {"width": 80, "height": 327, "layer": [
  {"data": {"name": "one"}, "mark": {"type": "rule", "strokeWidth": 4}, "encoding": {"y": {"datum": -2.893, "type": "quantitative", "scale": {"domain": [-3.484, 13.311], "reverse": true, "nice": false, "zero": false}}}},
  {"data": {"name": "one"}, "mark": {"type": "rule", "strokeWidth": 4}, "encoding": {"y": {"datum": 8.16, "type": "quantitative"}}},
  {"data": {"name": "one"}, "mark": {"type": "text", "align": "left", "baseline": "middle", "fontWeight": "bold", "dx": 5}, "encoding": {"x": {"datum": 0, "type": "quantitative", "scale": {"domain": [0, 1], "nice": false, "zero": false}}, "y": {"datum": -1.738, "type": "quantitative"}, "text": {"value": "Study name"}}},
  {"data": {"name": "one"}, "mark": {"type": "rule", "strokeWidth": 1, "xOffset": 5, "x2Offset": 62}, "encoding": {"x": {"datum": 0, "type": "quantitative"}, "x2": {"datum": 0}, "y": {"datum": -1.46, "type": "quantitative"}}},
  {"data": {"name": "studies"}, "transform": [{"filter": "datum.panel == 4"}], "mark": {"type": "text", "align": "left", "baseline": "middle", "dx": 5, "fontSize": 9.6}, "encoding": {"x": {"datum": 0, "type": "quantitative"}, "y": {"field": "row", "type": "quantitative"}, "text": {"field": "study", "type": "nominal"}}},
  {"data": {"name": "one"}, "mark": {"type": "text", "align": "left", "baseline": "middle", "fontSize": 14, "dx": 4.5}, "encoding": {"x": {"datum": 0, "type": "quantitative"}, "y": {"datum": 7.251, "type": "quantitative"}, "text": {"value": "Hedges’ g=0.24, 95% CI [-0.11, 0.60], "}}},
  {"data": {"name": "one"}, "mark": {"type": "text", "align": "left", "baseline": "middle", "fontSize": 14, "fontStyle": "italic", "dx": 242.4}, "encoding": {"x": {"datum": 0, "type": "quantitative"}, "y": {"datum": 7.251, "type": "quantitative"}, "text": {"value": "p"}}},
  {"data": {"name": "one"}, "mark": {"type": "text", "align": "left", "baseline": "middle", "fontSize": 14, "dx": 250.2}, "encoding": {"x": {"datum": 0, "type": "quantitative"}, "y": {"datum": 7.251, "type": "quantitative"}, "text": {"value": "=.181, I²=24.8%"}}},
  {"data": {"name": "one"}, "mark": {"type": "text", "align": "left", "baseline": "middle", "fontSize": 15, "fontWeight": "bold", "dx": 4}, "encoding": {"x": {"datum": 0, "type": "quantitative"}, "y": {"datum": 9.064, "type": "quantitative"}, "text": {"value": "Intervention period – four weeks"}}},
  {"data": {"name": "one"}, "mark": {"type": "text", "align": "left", "baseline": "middle", "fontSize": 15.3, "dx": 0.5}, "encoding": {"x": {"datum": 0, "type": "quantitative"}, "y": {"datum": 10.933, "type": "quantitative"}, "text": {"value": "B. Subgroup analysis according to the intervention period."}}},
  {"data": {"name": "one"}, "mark": {"type": "text", "align": "left", "baseline": "middle", "fontSize": 13.6, "dx": 0}, "encoding": {"x": {"datum": 0, "type": "quantitative"}, "y": {"datum": 12.864, "type": "quantitative"}, "text": {"value": "CI=confidence interval; MCI=mild cognitive impairment."}}}
 ]},
 {"width": 115, "height": 327, "layer": [
  {"data": {"name": "one"}, "mark": {"type": "rule", "strokeWidth": 4}, "encoding": {"y": {"datum": -2.893, "type": "quantitative", "scale": {"domain": [-3.484, 13.311], "reverse": true, "nice": false, "zero": false}}}},
  {"data": {"name": "one"}, "mark": {"type": "rule", "strokeWidth": 4}, "encoding": {"y": {"datum": 8.16, "type": "quantitative"}}},
  {"data": {"name": "cols"}, "transform": [{"filter": {"field": "col", "oneOf": ["g", "se"]}}], "mark": {"type": "text", "fontWeight": "bold", "baseline": "middle", "lineBreak": "\n", "lineHeight": 12}, "encoding": {"x": {"field": "col", "type": "nominal", "scale": {"type": "band", "domain": ["g", "se"], "paddingInner": 0, "paddingOuter": 0}}, "y": {"datum": -0.684, "type": "quantitative"}, "text": {"field": "h", "type": "nominal"}}},
  {"data": {"name": "studies"}, "transform": [{"filter": "datum.panel == 4"}, {"fold": ["g", "se"], "as": ["col", "val"]}], "mark": {"type": "text", "align": "right", "baseline": "middle", "dx": 24, "fontSize": 9.6}, "encoding": {"x": {"field": "col", "type": "nominal"}, "y": {"field": "row", "type": "quantitative"}, "text": {"field": "val", "type": "quantitative", "format": ".3f"}}}
 ]},
 {"width": 212, "height": 327, "layer": [
  {"data": {"name": "one"}, "mark": {"type": "rule", "strokeWidth": 4}, "encoding": {"y": {"datum": -2.893, "type": "quantitative", "scale": {"domain": [-3.484, 13.311], "reverse": true, "nice": false, "zero": false}}}},
  {"data": {"name": "one"}, "mark": {"type": "rule", "strokeWidth": 4}, "encoding": {"y": {"datum": 8.16, "type": "quantitative"}}},
  {"data": {"name": "one"}, "mark": {"type": "text", "fontWeight": "bold", "baseline": "middle", "dx": 30}, "encoding": {"x": {"datum": "var", "type": "nominal", "scale": {"type": "band", "domain": ["var", "lo", "hi", "z", "p"], "paddingInner": 0, "paddingOuter": 0}}, "y": {"datum": -1.738, "type": "quantitative"}, "text": {"value": "Statistics for each study"}}},
  {"data": {"name": "one"}, "mark": {"type": "rule", "strokeWidth": 1, "xOffset": -28, "x2Offset": 0}, "encoding": {"x": {"datum": "var", "type": "nominal"}, "x2": {"datum": "hi"}, "y": {"datum": -1.46, "type": "quantitative"}}},
  {"data": {"name": "cols"}, "transform": [{"filter": {"field": "col", "oneOf": ["var", "lo", "hi", "z", "p"]}}], "mark": {"type": "text", "fontWeight": "bold", "baseline": "middle", "lineBreak": "\n", "lineHeight": 12}, "encoding": {"x": {"field": "col", "type": "nominal"}, "y": {"datum": -0.684, "type": "quantitative"}, "text": {"field": "h", "type": "nominal"}}},
  {"data": {"name": "studies"}, "transform": [{"filter": "datum.panel == 4"}, {"fold": ["var", "lo", "hi", "z", "p"], "as": ["col", "val"]}], "mark": {"type": "text", "align": "right", "baseline": "middle", "dx": 18, "fontSize": 9.6}, "encoding": {"x": {"field": "col", "type": "nominal"}, "y": {"field": "row", "type": "quantitative"}, "text": {"field": "val", "type": "quantitative", "format": ".3f"}}}
 ]},
 {"width": 127, "height": 327, "layer": [
  {"data": {"name": "one"}, "mark": {"type": "rule", "strokeWidth": 4}, "encoding": {"y": {"datum": -2.893, "type": "quantitative", "scale": {"domain": [-3.484, 13.311], "reverse": true, "nice": false, "zero": false}}}},
  {"data": {"name": "one"}, "mark": {"type": "rule", "strokeWidth": 4}, "encoding": {"y": {"datum": 8.16, "type": "quantitative"}}},
  {"data": {"name": "one"}, "mark": {"type": "text", "fontWeight": "bold", "baseline": "middle", "dx": 22}, "encoding": {"x": {"datum": "ne", "type": "nominal", "scale": {"type": "point", "domain": ["ne", "nc"], "padding": 0.614}}, "y": {"datum": -1.738, "type": "quantitative"}, "text": {"value": "Sample size"}}},
  {"data": {"name": "one"}, "mark": {"type": "rule", "strokeWidth": 1, "xOffset": -7, "x2Offset": -5}, "encoding": {"x": {"datum": "ne", "type": "nominal"}, "x2": {"datum": "nc"}, "y": {"datum": -1.46, "type": "quantitative"}}},
  {"data": {"name": "cols"}, "transform": [{"filter": {"field": "col", "oneOf": ["ne", "nc"]}}], "mark": {"type": "text", "fontWeight": "bold", "baseline": "middle", "lineBreak": "\n", "lineHeight": 12}, "encoding": {"x": {"field": "col", "type": "nominal"}, "y": {"datum": -0.684, "type": "quantitative"}, "text": {"field": "h", "type": "nominal"}}},
  {"data": {"name": "studies"}, "transform": [{"filter": "datum.panel == 4"}, {"fold": ["ne", "nc"], "as": ["col", "val"]}], "mark": {"type": "text", "baseline": "middle", "fontSize": 9.6}, "encoding": {"x": {"field": "col", "type": "nominal"}, "y": {"field": "row", "type": "quantitative"}, "text": {"field": "val", "type": "quantitative", "format": "d"}}}
 ]},
 {"width": 277, "height": 327, "layer": [
  {"data": {"name": "one"}, "mark": {"type": "rule", "strokeWidth": 4}, "encoding": {"y": {"datum": -2.893, "type": "quantitative", "scale": {"domain": [-3.484, 13.311], "reverse": true, "nice": false, "zero": false}}}},
  {"data": {"name": "one"}, "mark": {"type": "rule", "strokeWidth": 4}, "encoding": {"y": {"datum": 8.16, "type": "quantitative"}}},
  {"data": {"name": "refs"}, "mark": {"type": "rule", "strokeWidth": 3}, "encoding": {"x": {"field": "ref", "type": "quantitative", "scale": {"domain": [-1.128, 1.372], "nice": false, "zero": false}}, "y": {"datum": 0.625, "type": "quantitative"}, "y2": {"datum": 4.564}}},
  {"data": {"name": "studies"}, "transform": [{"filter": "datum.panel == 4 && datum.row < 4"}], "mark": {"type": "rule", "strokeWidth": 3}, "encoding": {"x": {"field": "lo", "type": "quantitative"}, "x2": {"field": "hi"}, "y": {"field": "row", "type": "quantitative"}}},
  {"data": {"name": "studies"}, "transform": [{"filter": "datum.panel == 4 && datum.row < 4"}], "mark": {"type": "square", "opacity": 1}, "encoding": {"x": {"field": "g", "type": "quantitative"}, "y": {"field": "row", "type": "quantitative"}, "size": {"field": "w", "type": "quantitative", "scale": {"domain": [20, 56], "range": [140, 290]}, "legend": null}}},
  {"data": {"name": "studies"}, "transform": [{"filter": "datum.panel == 4 && datum.row == 4"}], "mark": {"type": "point", "shape": "M-1,0L0,-0.212L1,0L0,0.212Z", "size": 6147, "filled": true, "opacity": 1}, "encoding": {"x": {"field": "g", "type": "quantitative"}, "y": {"field": "row", "type": "quantitative"}}},
  {"data": {"name": "one"}, "mark": {"type": "text", "fontWeight": "bold", "baseline": "middle"}, "encoding": {"x": {"datum": 0.03, "type": "quantitative"}, "y": {"datum": -1.738, "type": "quantitative"}, "text": {"value": "Hedges' g and 95% CI"}}},
  {"data": {"name": "one"}, "mark": {"type": "rule", "strokeWidth": 1}, "encoding": {"x": {"datum": -0.46, "type": "quantitative"}, "x2": {"datum": 0.523}, "y": {"datum": -1.46, "type": "quantitative"}}},
  {"data": {"name": "refs"}, "mark": {"type": "text", "fontWeight": "bold", "baseline": "middle"}, "encoding": {"x": {"field": "ref", "type": "quantitative"}, "y": {"datum": 5.761, "type": "quantitative"}, "text": {"field": "ref", "type": "quantitative", "format": ".2f"}}},
  {"data": {"name": "one"}, "mark": {"type": "text", "fontWeight": "bold", "baseline": "middle"}, "encoding": {"x": {"datum": -1, "type": "quantitative"}, "y": {"datum": 6.958, "type": "quantitative"}, "text": {"value": "Comparison"}}},
  {"data": {"name": "one"}, "mark": {"type": "text", "fontWeight": "bold", "baseline": "middle"}, "encoding": {"x": {"datum": 1.02, "type": "quantitative"}, "y": {"datum": 6.958, "type": "quantitative"}, "text": {"value": "Mobile Health Application"}}}
 ]},
 {"width": 60, "height": 327, "layer": [
  {"data": {"name": "one"}, "mark": {"type": "rule", "strokeWidth": 4}, "encoding": {"y": {"datum": -2.893, "type": "quantitative", "scale": {"domain": [-3.484, 13.311], "reverse": true, "nice": false, "zero": false}}}},
  {"data": {"name": "one"}, "mark": {"type": "rule", "strokeWidth": 4}, "encoding": {"y": {"datum": 8.16, "type": "quantitative"}}},
  {"data": {"name": "one"}, "mark": {"type": "text", "fontWeight": "bold", "baseline": "middle", "lineBreak": "\n", "lineHeight": 12, "dx": -5.5}, "encoding": {"x": {"datum": 0.5, "type": "quantitative", "scale": {"domain": [0, 1], "nice": false, "zero": false}}, "y": {"datum": -0.684, "type": "quantitative"}, "text": {"value": "Relative\nweight"}}},
  {"data": {"name": "studies"}, "transform": [{"filter": "datum.panel == 4 && datum.w != null"}], "mark": {"type": "text", "align": "right", "baseline": "middle", "dx": -10, "fontSize": 9.6}, "encoding": {"x": {"datum": 1, "type": "quantitative"}, "y": {"field": "row", "type": "quantitative"}, "text": {"field": "w", "type": "quantitative", "format": ".2f"}}}
 ]}
]}
]
}
